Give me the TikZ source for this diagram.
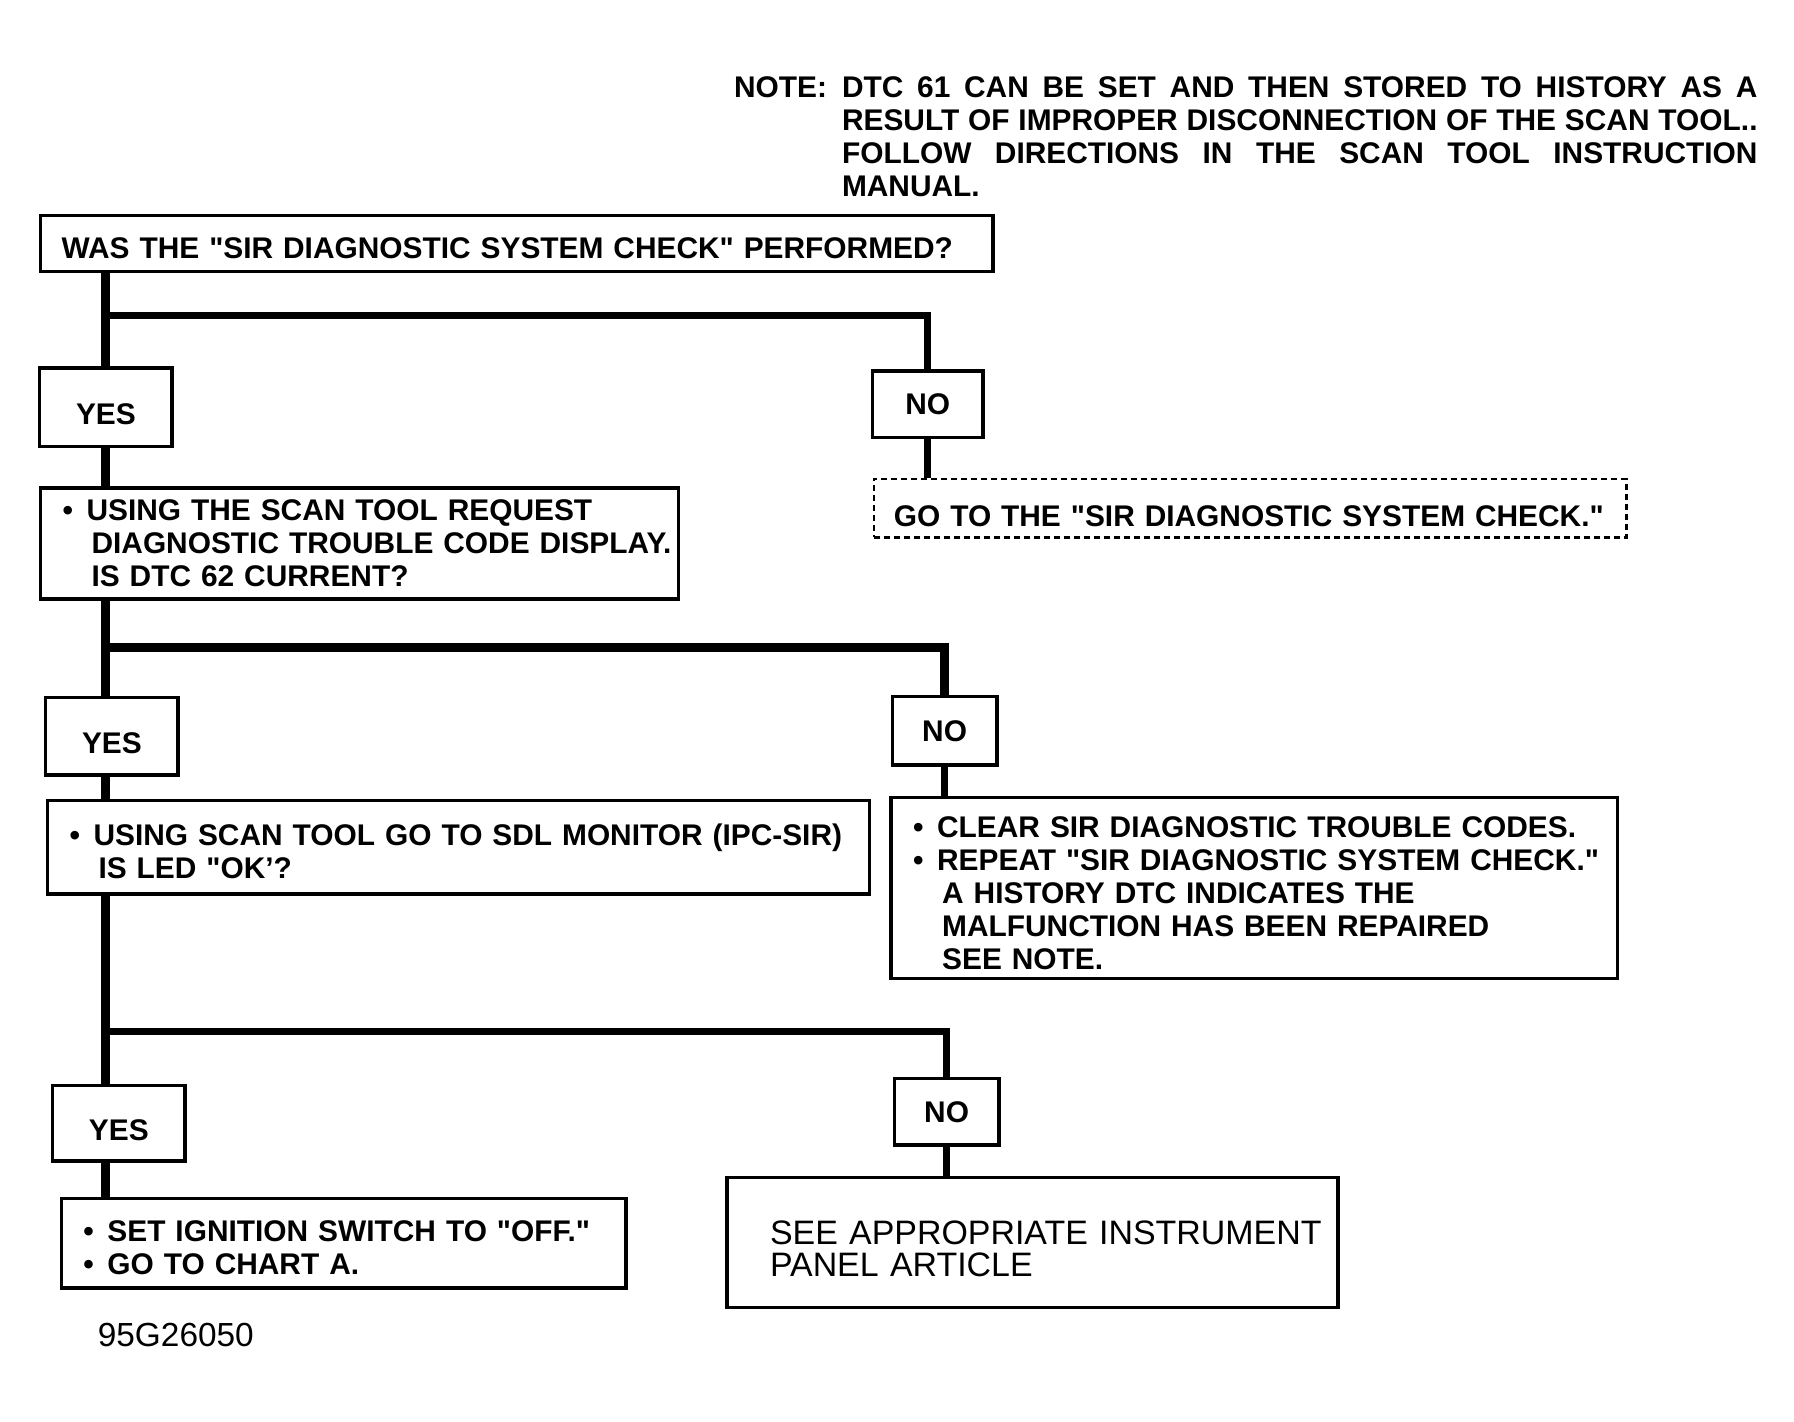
\documentclass[tikz,border=0pt]{standalone}
\usepackage{fontspec}
\setmainfont{Liberation Sans}[Ligatures=TeXOff]
\usetikzlibrary{positioning}
\newcommand{\bul}{\makebox[0.48cm][l]{\textbullet}}
\newcommand{\ind}{\hspace*{0.58cm}}
\newcommand{\drop}[1]{\rule{0pt}{#1}}
\tikzset{
  txt/.style={font=\fontsize{17}{18.8}\selectfont\bfseries},
  box/.style={txt, draw, line width=2pt, anchor=north west, align=left, inner xsep=0.44cm, inner ysep=0pt},
  ans/.style={txt, draw, line width=2pt, inner sep=0pt},
  yes/.style={ans, text height=20pt, text depth=0pt},
  trunk/.style={line width=5pt},
  branch/.style={line width=4pt}
}

\begin{document}
\begin{tikzpicture}[x=0.0199cm,y=-0.0199cm]
\useasboundingbox (0,0) rectangle (35.88cm,-28.44cm);
% note at the top
\node[txt, anchor=north west, inner sep=0pt, text width=18.31cm, align=justify] (note) at (846,77)
  {\llap{NOTE:\hspace{0.3cm}}DTC 61 CAN BE SET AND THEN STORED TO HISTORY AS A\linebreak
   RESULT OF IMPROPER DISCONNECTION OF THE SCAN TOOL..\linebreak
   FOLLOW DIRECTIONS IN THE SCAN TOOL INSTRUCTION\linebreak
   MANUAL.};
% boxes
\node[box, text width=18.21cm, minimum height=1.12cm, inner xsep=0.42cm] (check) at (39,215)
  {\drop{17.4pt}\mbox{WAS THE "SIR DIAGNOSTIC SYSTEM CHECK" PERFORMED?}};
\node[yes, minimum width=2.65cm, minimum height=1.57cm] (yes1) at (106.5,409.5) {YES};
\node[ans, minimum width=2.21cm, minimum height=1.33cm] (no1) at (932.5,406.5) {NO};
\node[box, dash pattern=on 0.12cm off 0.08cm, line width=1.5pt, inner xsep=0.4cm,
  text width=14.25cm, minimum height=1.17cm] (gocheck) at (877,480)
  {\drop{21pt}\mbox{GO TO THE "SIR DIAGNOSTIC SYSTEM CHECK."}};
\node[box, text width=11.88cm, minimum height=2.21cm] (dtc) at (39,489)
  {\mbox{\bul USING THE SCAN TOOL REQUEST}\\
   \mbox{\ind DIAGNOSTIC TROUBLE CODE DISPLAY.}\\
   \mbox{\ind IS DTC 62 CURRENT?}};
\node[yes, minimum width=2.65cm, minimum height=1.55cm] (yes2) at (112.5,740) {YES};
\node[ans, minimum width=2.09cm, minimum height=1.37cm] (no2) at (949.5,734.5) {NO};
\node[box, text width=13.65cm, minimum height=3.62cm] (clear) at (894,800)
  {\drop{17.4pt}\mbox{\bul CLEAR SIR DIAGNOSTIC TROUBLE CODES.}\\
   \mbox{\bul REPEAT "SIR DIAGNOSTIC SYSTEM CHECK."}\\
   \mbox{\ind A HISTORY DTC INDICATES THE}\\
   \mbox{\ind MALFUNCTION HAS BEEN REPAIRED}\\
   \mbox{\ind SEE NOTE.}};
\node[box, text width=15.56cm, minimum height=1.87cm] (sdl) at (46,803)
  {\drop{17pt}\mbox{\bul USING SCAN TOOL GO TO SDL MONITOR (IPC-SIR)}\\
   \mbox{\ind IS LED "OK’?}};
\node[yes, minimum width=2.65cm, minimum height=1.51cm] (yes3) at (119.5,1129) {YES};
\node[ans, minimum width=2.09cm, minimum height=1.33cm] (no3) at (951.5,1117.5) {NO};
\node[box, text width=10.41cm, minimum height=1.79cm] (ign) at (60,1203)
  {\drop{17pt}\mbox{\bul SET IGNITION SWITCH TO "OFF."}\\
   \mbox{\bul GO TO CHART A.}};
\node[box, font=\fontsize{19.3}{18.7}\selectfont, inner xsep=0.86cm, text width=10.5cm,
  minimum height=2.6cm] (panel) at (729,1182)
  {\drop{20.4pt}\mbox{SEE APPROPRIATE INSTRUMENT}\\ \mbox{PANEL ARTICLE}};
\node[font=\fontsize{19}{20}\selectfont, anchor=west, inner sep=0pt] (fig) at (98,1342) {95G26050};
% connectors
\coordinate (j1) at (106,317);
\coordinate (j2) at (106,651);
\coordinate (j3) at (106,1037);
\draw[trunk] (check.south -| j1) -- (yes1.north -| j1);
\draw[branch] (j1) -| (no1.north);
\draw[branch] (no1.south) -- (gocheck.north -| no1.south);
\draw[trunk] (yes1.south -| j1) -- (dtc.north -| j1);
\draw[trunk] (dtc.south -| j2) -- (yes2.north -| j2);
\draw[trunk] (j2) -| (no2.north);
\draw[branch] (no2.south) -- (clear.north -| no2.south);
\draw[trunk] (yes2.south -| j2) -- (sdl.north -| j2);
\draw[trunk] (sdl.south -| j3) -- (yes3.north -| j3);
\draw[branch] (j3) -| (no3.north);
\draw[branch] (no3.south) -- (panel.north -| no3.south);
\draw[trunk] (yes3.south -| j3) -- (ign.north -| j3);
\end{tikzpicture}
\end{document}
